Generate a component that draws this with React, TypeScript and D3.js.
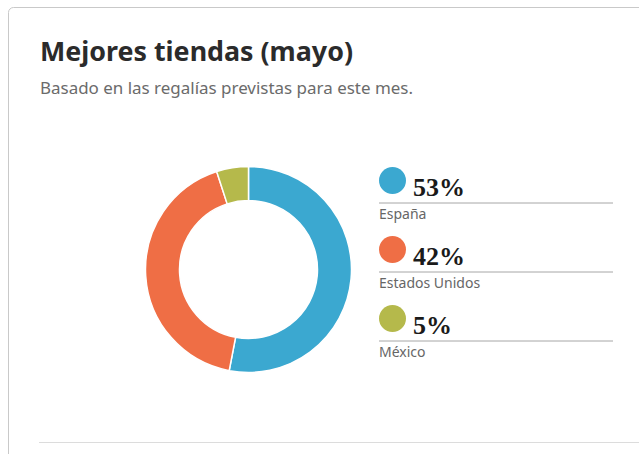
import { useEffect, useRef } from 'react';
import * as d3 from 'd3';

const stores = ['España', 'Estados Unidos', 'México'];
const shares = [53, 42, 5];
const colors = ['#3ba8d0', '#ef6e45', '#b5b94b'];

export default function App() {
  const svgRef = useRef<SVGSVGElement>(null);

  useEffect(() => {
    const width = 639;
    const height = 454;

    const svg = d3.select(svgRef.current);
    svg.selectAll('*').remove();
    svg.attr('width', width).attr('height', height);

    // card frame
    svg
      .append('rect')
      .attr('x', 8.5)
      .attr('y', 7.5)
      .attr('width', 700)
      .attr('height', 500)
      .attr('rx', 5)
      .attr('fill', '#fff')
      .attr('stroke', '#c9c9c9');

    svg
      .append('text')
      .attr('x', 40)
      .attr('y', 61)
      .attr('font-family', '"Noto Sans", sans-serif')
      .attr('font-weight', 'bold')
      .attr('font-size', 26)
      .attr('fill', '#2b2b2b')
      .attr('textLength', 313)
      .attr('lengthAdjust', 'spacingAndGlyphs')
      .text('Mejores tiendas (mayo)');

    svg
      .append('text')
      .attr('x', 40)
      .attr('y', 94)
      .attr('font-family', '"Noto Sans", sans-serif')
      .attr('font-size', 15.5)
      .attr('fill', '#6b6b6b')
      .attr('textLength', 373)
      .attr('lengthAdjust', 'spacingAndGlyphs')
      .text('Basado en las regalías previstas para este mes.');

    // donut
    const cx = 248.5;
    const cy = 269.5;
    const color = d3.scaleOrdinal<string, string>().domain(stores).range(colors);
    const pie = d3.pie<number>().sort(null).value((d) => d);
    const arc = d3.arc<d3.PieArcDatum<number>>().innerRadius(69).outerRadius(103);

    const g = svg.append('g').attr('transform', `translate(${cx},${cy})`);
    g.selectAll('path')
      .data(pie(shares))
      .enter()
      .append('path')
      .attr('d', arc)
      .attr('fill', (d, i) => color(stores[i]))
      .attr('stroke', '#fff')
      .attr('stroke-width', 1.5);

    // legend
    const rowY = d3.scaleLinear().domain([0, 1]).range([180.5, 249.5]);
    const legend = svg
      .selectAll('.legend')
      .data(stores)
      .enter()
      .append('g')
      .attr('class', 'legend')
      .attr('transform', (d, i) => `translate(0, ${rowY(i)})`);

    legend
      .append('circle')
      .attr('cx', 392.5)
      .attr('cy', 0)
      .attr('r', 13.5)
      .attr('fill', (d) => color(d));

    legend
      .append('text')
      .attr('x', 413)
      .attr('y', 15)
      .attr('font-family', '"Liberation Serif", serif')
      .attr('font-weight', 'bold')
      .attr('font-size', 26)
      .attr('fill', '#1a1a1a')
      .text((d, i) => `${shares[i]}%`);

    legend
      .append('line')
      .attr('x1', 379)
      .attr('x2', 613)
      .attr('y1', 22.5)
      .attr('y2', 22.5)
      .attr('stroke', '#a6a6a6')
      .attr('stroke-width', 1);

    legend
      .append('text')
      .attr('x', 379)
      .attr('y', 38.5)
      .attr('font-family', '"Noto Sans", sans-serif')
      .attr('font-size', 14)
      .attr('fill', '#666')
      .text((d) => d);

    svg
      .append('line')
      .attr('x1', 39)
      .attr('x2', 639)
      .attr('y1', 442.5)
      .attr('y2', 442.5)
      .attr('stroke', '#dcdcdc');
  }, []);

  return (
    <svg
      ref={svgRef}
      style={{ position: 'absolute', left: 0, top: 0, display: 'block' }}
    ></svg>
  );
}
